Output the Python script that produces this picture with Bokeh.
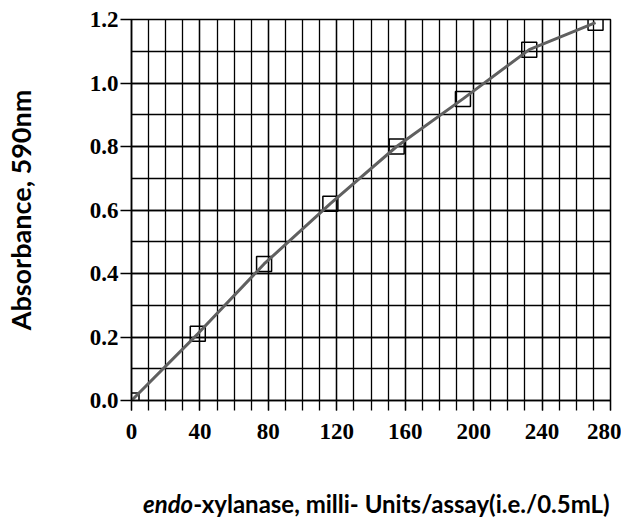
from bokeh.plotting import figure
from bokeh.models import Range1d, FixedTicker, Div
from bokeh.layouts import column
from bokeh.embed import file_html
from bokeh.resources import INLINE

# Data
enzyme_mU = [0.0, 38.75, 77.5, 116.25, 155.0, 193.75, 232.5, 271.25]
absorbance = [0.0, 0.21, 0.43, 0.62, 0.80, 0.95, 1.105, 1.19]

x_ticks = [0, 40, 80, 120, 160, 200, 240, 280]
x_minor_ticks = list(range(0, 281, 10))
y_ticks = [0.0, 0.2, 0.4, 0.6, 0.8, 1.0, 1.2]
y_tick_labels = ["0.0", "0.2", "0.4", "0.6", "0.8", "1.0", "1.2"]
y_minor_ticks = [i / 10 for i in range(0, 13)]

y_title = "Absorbance, 590nm"
x_title_italic = "endo"
x_title_rest = "-xylanase, milli- Units/assay(i.e./0.5mL)"

p = figure(width=621, height=484,
           x_range=Range1d(0, 280), y_range=Range1d(0, 1.2),
           output_backend="svg", toolbar_location=None,
           min_border_left=123, min_border_right=11,
           min_border_top=19, min_border_bottom=84, margin=0)

p.background_fill_color = "white"
p.border_fill_color = "white"
p.outline_line_color = "black"
p.outline_line_width = 1.5

p.xaxis.ticker = FixedTicker(ticks=x_ticks, minor_ticks=x_minor_ticks)
p.yaxis.ticker = FixedTicker(ticks=y_ticks, minor_ticks=y_minor_ticks)
p.yaxis.major_label_overrides = {t: l for t, l in zip(y_ticks, y_tick_labels)}

for g in (p.xgrid, p.ygrid):
    g.grid_line_color = "black"
    g.grid_line_width = 1.3
    g.minor_grid_line_color = "black"
    g.minor_grid_line_width = 1.3

for ax in (p.xaxis, p.yaxis):
    ax.axis_line_color = "black"
    ax.axis_line_width = 1.5
    ax.major_tick_line_color = "black"
    ax.major_tick_line_width = 1.3
    ax.minor_tick_line_color = "black"
    ax.minor_tick_line_width = 1.3
    ax.major_tick_in = 0
    ax.minor_tick_in = 0
    ax.major_label_text_font = "Liberation Serif"
    ax.major_label_text_font_style = "bold"
    ax.major_label_text_font_size = "23px"
    ax.major_label_text_color = "black"

p.xaxis.major_tick_out = 10
p.xaxis.minor_tick_out = 10
p.xaxis.major_label_standoff = 13
p.yaxis.major_tick_out = 11
p.yaxis.minor_tick_out = 0
p.yaxis.major_label_standoff = 2

p.yaxis.axis_label = y_title
p.yaxis.axis_label_text_font = "Lato"
p.yaxis.axis_label_text_font_style = "bold"
p.yaxis.axis_label_text_font_size = "27px"
p.yaxis.axis_label_text_color = "black"
p.yaxis.axis_label_standoff = 50

p.scatter(enzyme_mU, absorbance, marker="square", size=15,
          fill_color=None, line_color="black", line_width=1.5)
p.line(enzyme_mU, absorbance, line_color="#606060", line_width=3)

xlabel = Div(text=f"<i>{x_title_italic}</i>{x_title_rest}",
             width=621, height=22, margin=0,
             styles={"font-family": "Lato", "font-weight": "bold",
                     "font-size": "24px", "color": "black",
                     "padding-left": "143px", "white-space": "nowrap",
                     "line-height": "40px"})

layout = column(p, xlabel, spacing=0, margin=0)

open("out.html", "w").write(file_html(layout, INLINE))
